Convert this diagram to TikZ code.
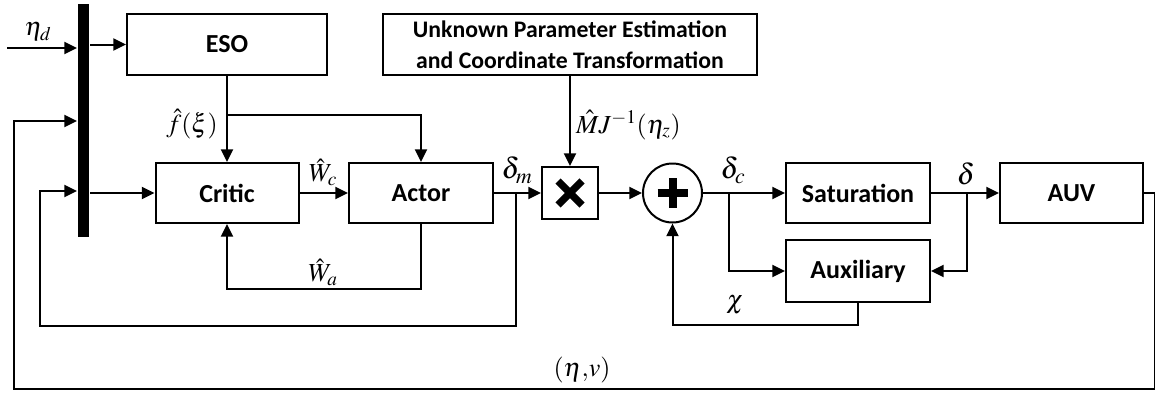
\documentclass[tikz,border=0pt]{standalone}
\usepackage{mathptmx}
\usepackage[no-math]{fontspec}
\newfontfamily\carl{Carlito}
\usetikzlibrary{arrows.meta}
\begin{document}
\begin{tikzpicture}[x=0.75pt,y=-0.75pt, line width=1.5pt,
  box/.style={draw, line width=1.5pt, inner sep=0pt, align=center, font=\carl\bfseries\fontsize{19.5}{22}\selectfont},
  arr/.style={-{Triangle[length=9.5pt,width=9pt]}},
  lbl/.style={inner sep=0pt, font=\fontsize{19.5}{19.5}\selectfont},
  dlbl/.style={inner sep=0pt, font=\fontsize{22}{22}\selectfont}]
\useasboundingbox (0,0) rectangle (1155,397);
% blocks
\node[fill, minimum width=8.25pt, minimum height=174.75pt, inner sep=0pt] (bar) at (83.5,120.5) {};
\node[box, minimum width=150pt, minimum height=45.75pt] (eso) at (227,44.5) {ESO};
\node[box, minimum width=280.5pt, minimum height=45.75pt, font=\carl\bfseries\fontsize{17.8}{23}\selectfont] (upe) at (570,44.5) {Unknown Parameter Estimation\\and Coordinate Transformation};
\node[box, minimum width=107.25pt, minimum height=45pt] (critic) at (227,193) {Critic};
\node[box, minimum width=108pt, minimum height=45pt] (actor) at (421,193) {Actor};
\node[box, minimum width=42pt, minimum height=39pt] (mult) at (570,193) {};
\node[draw, circle, minimum size=44.25pt, inner sep=0pt] (sum) at (672.5,193) {};
\node[box, minimum width=108pt, minimum height=45pt] (sat) at (858,193) {Saturation};
\node[box, minimum width=108pt, minimum height=46.5pt] (aux) at (858,271) {Auxiliary};
\node[box, minimum width=107.25pt, minimum height=45pt] (auv) at (1071.5,193) {AUV};
% symbols
\draw[line width=5.5pt] ([shift={(-12,-12)}]mult.center) -- ([shift={(12,12)}]mult.center);
\draw[line width=5.5pt] ([shift={(-12,12)}]mult.center) -- ([shift={(12,-12)}]mult.center);
\draw[line width=6pt] ([shift={(-15,0)}]sum.center) -- ([shift={(15,0)}]sum.center);
\draw[line width=6pt] ([shift={(0,-15)}]sum.center) -- ([shift={(0,15)}]sum.center);
% coordinates
\coordinate (etain) at (7,48);
\coordinate (b1) at (227,115);
\coordinate (wa) at (0,289);
\coordinate (dm) at (516,193);
\coordinate (c2a) at (516,326);
\coordinate (c2b) at (40,326);
\coordinate (c2c) at (40,191);
\coordinate (dc) at (729,193);
\coordinate (dd) at (967,193);
\coordinate (chi) at (0,325);
\coordinate (o1) at (1155,193);
\coordinate (o2) at (1155,389);
\coordinate (o3) at (14,389);
\coordinate (o4) at (14,121);
% connectors
\draw[arr] (etain) -- (etain -| bar.west);
\draw[arr] (bar.east |- eso.west) -- (eso.west);
\draw[arr] (eso.south) -- (critic.north);
\draw[arr] (b1) -| (actor.north);
\draw[arr] (bar.east |- critic.west) -- (critic.west);
\draw[arr] (critic.east) -- (actor.west);
\draw[arr] (actor.east) -- (mult.west);
\draw[arr] (actor.south) -- (actor.south |- wa) -- (critic.south |- wa) -- (critic.south);
\draw[arr] (dm) -- (c2a) -- (c2b) -- (c2c) -- (c2c -| bar.west);
\draw[arr] (upe.south) -- (mult.north);
\draw[arr] (mult.east) -- (sum.west);
\draw[arr] (sum.east) -- (sat.west);
\draw[arr] (dc) |- (aux.west);
\draw[arr] (sat.east) -- (auv.west);
\draw[arr] (dd) |- (aux.east);
\draw[arr] (aux.south) -- (aux.south |- chi) -- (sum.south |- chi) -- (sum.south);
\draw[arr] (auv.east) -- (o1) -- (o2) -- (o3) -- (o4) -- (o4 -| bar.west);
% labels
\node[lbl] (letad) at (38,32) {$\eta_d$};
\node[lbl] (lf) at (192,124) {$\hat f(\xi)$};
\node[lbl] (lwc) at (323,172) {$\hat W_c$};
\node[lbl] (lwa) at (323,272) {$\hat W_a$};
\node[dlbl] (ldm) at (517,170) {$\delta_m$};
\node[lbl, anchor=west] (lm) at (575,125) {$\hat M J^{-1}(\eta_z)$};
\node[dlbl] (ldc) at (733,170) {$\delta_c$};
\node[dlbl] (ld) at (966,174) {$\delta$};
\node[lbl] (lchi) at (735,305) {$\chi$};
\node[lbl] (letav) at (582,370) {$(\eta,\!v)$};
\end{tikzpicture}
\end{document}
